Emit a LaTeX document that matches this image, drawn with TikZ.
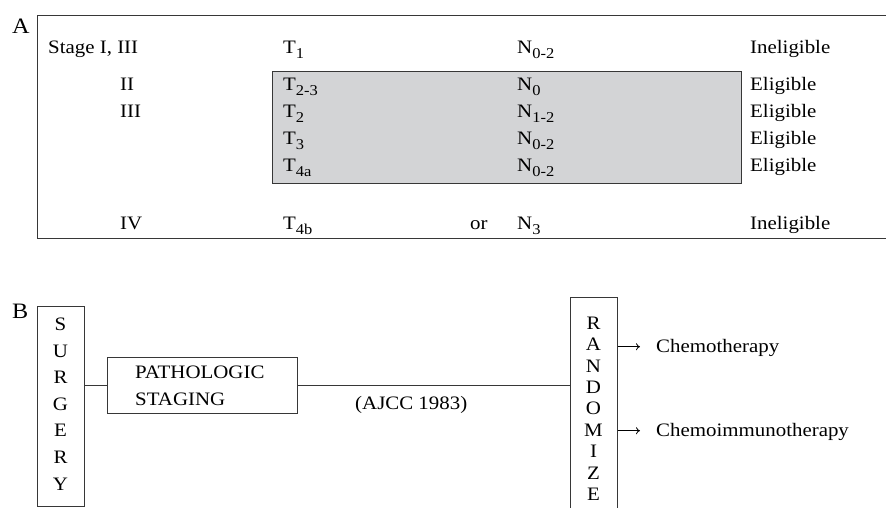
\documentclass[tikz,border=0pt]{standalone}
\usepackage{fontspec}
\setmainfont{Liberation Serif}
\usepackage{graphicx}
\usetikzlibrary{arrows.meta}
\newcommand\hs[1]{\scalebox{1.1}[1]{#1}}
\newcommand\sbs[1]{\raisebox{-5.5pt}{\fontsize{15}{15}\selectfont #1}}
\definecolor{ln}{RGB}{55,55,55}
\definecolor{shade}{RGB}{211,212,214}
\begin{document}
\begin{tikzpicture}[x=1pt,y=-1pt,
  txt/.style={anchor=base west, inner sep=0pt, font=\fontsize{19}{21}\selectfont},
  ltr/.style={anchor=base, inner sep=0pt, font=\fontsize{19}{21}\selectfont},
  big/.style={anchor=base west, inner sep=0pt, font=\fontsize{22}{24}\selectfont},
  box/.style={draw=ln, line width=1.25pt, anchor=north west, inner sep=0pt},
  wire/.style={draw=ln, line width=1.2pt},
  arr/.style={draw=black, line width=0.8pt, -{To[length=4pt,width=7pt]}, shorten >=16pt}]
\clip (0,0) rectangle (886,507);
\fill[white] (0,0) rectangle (886,507);
% Panel A
\node[big] (lA) at (12,33) {\hs{A}};
\node[box, minimum width=870pt, minimum height=223pt] (boxA) at (37,15) {};
\node[box, fill=shade, minimum width=469pt, minimum height=112pt] (elig) at (272,71) {};
\node[txt] (stg) at (48,53) {\hs{Stage I, III}};
\node[txt] (t1) at (283,53) {\hs{T\sbs{1}}};
\node[txt] (n1) at (517,53) {\hs{N\sbs{0-2}}};
\node[txt] (e1) at (750,53) {\hs{Ineligible}};
\node[txt] (s2) at (120,90) {\hs{II}};
\node[txt] (t2) at (283,90) {\hs{T\sbs{2-3}}};
\node[txt] (n2) at (517,90) {\hs{N\sbs{0}}};
\node[txt] (e2) at (750,90) {\hs{Eligible}};
\node[txt] (s3) at (120,117) {\hs{III}};
\node[txt] (t3) at (283,117) {\hs{T\sbs{2}}};
\node[txt] (n3) at (517,117) {\hs{N\sbs{1-2}}};
\node[txt] (e3) at (750,117) {\hs{Eligible}};
\node[txt] (t4) at (283,144) {\hs{T\sbs{3}}};
\node[txt] (n4) at (517,144) {\hs{N\sbs{0-2}}};
\node[txt] (e4) at (750,144) {\hs{Eligible}};
\node[txt] (t5) at (283,171) {\hs{T\sbs{4a}}};
\node[txt] (n5) at (517,171) {\hs{N\sbs{0-2}}};
\node[txt] (e5) at (750,171) {\hs{Eligible}};
\node[txt] (s6) at (120,229) {\hs{IV}};
\node[txt] (t6) at (283,229) {\hs{T\sbs{4b}}};
\node[txt] (or6) at (470,229) {\hs{or}};
\node[txt] (n6) at (517,229) {\hs{N\sbs{3}}};
\node[txt] (e6) at (750,229) {\hs{Ineligible}};
% Panel B
\node[big] (lB) at (12,318) {\hs{B}};
\node[box, minimum width=47pt, minimum height=200pt] (surg) at (37,306) {};
\foreach \l [count=\i from 0] in {S,U,R,G,E,R,Y}
  \node[ltr] (sg\i) at (60.5,{330.7+26.55*\i}) {\hs{\l}};
\node[box, minimum width=190pt, minimum height=56pt] (path) at (107,357) {};
\node[txt] (pt1) at (135,378) {\hs{PATHOLOGIC}};
\node[txt] (pt2) at (135,405) {\hs{STAGING}};
\node[box, minimum width=47pt, minimum height=240pt] (rand) at (570,297) {};
\foreach \l [count=\i from 0] in {R,A,N,D,O,M,I,Z,E}
  \node[ltr] (rd\i) at (593.5,{329.3+21.4*\i}) {\hs{\l}};
\node[txt] (ajcc) at (355,409) {\hs{(AJCC 1983)}};
\draw[wire] (surg.east |- path.west) -- (path.west);
\draw[wire] (path.east) -- (rand.west |- path.east);
\node[txt] (c1) at (656,352.3) {\hs{Chemotherapy}};
\node[txt] (c2) at (656,436.7) {\hs{Chemoimmunotherapy}};
\coordinate (a1) at (617.5,346.7);
\coordinate (a2) at (617.5,430.7);
\draw[arr] (a1) -- (a1 -| c1.west);
\draw[arr] (a2) -- (a2 -| c2.west);
\end{tikzpicture}
\end{document}
